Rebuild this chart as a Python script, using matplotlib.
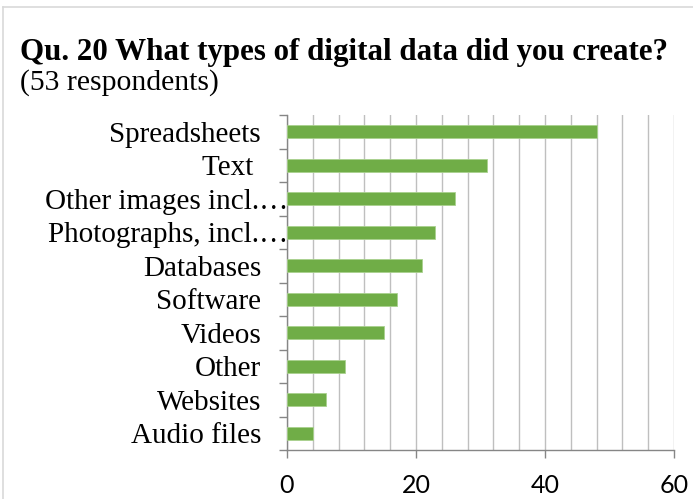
import matplotlib
matplotlib.use("Agg")
import matplotlib.pyplot as plt
from matplotlib.transforms import ScaledTranslation
from matplotlib.lines import Line2D
import numpy as np

categories = ["Spreadsheets", "Text ", "Other images incl.…", "Photographs, incl.…",
              "Databases", "Software", "Videos", "Other", "Websites", "Audio files"]
values = [48, 31, 26, 23, 21, 17, 15, 9, 6, 4]
x_ticks = [0, 20, 40, 60]
x_minor = list(range(0, 61, 4))

W, H = 693, 499
fig = plt.figure(figsize=(W / 100, H / 100), dpi=100)
fig.patch.set_facecolor("white")

# outer chart frame (top and left edges visible)
fig.add_artist(Line2D([2.5 / W, 1.0], [1 - 7 / H, 1 - 7 / H], transform=fig.transFigure,
                      color="#D9D9D9", linewidth=1.2))
fig.add_artist(Line2D([2.5 / W, 2.5 / W], [0, 1 - 7 / H], transform=fig.transFigure,
                      color="#D9D9D9", linewidth=1.2))

ax = fig.add_axes([287 / W, 1 - 450 / H, (674 - 287) / W, (450 - 115) / H])
y = np.arange(len(categories))
ax.barh(y, values, height=0.4, color="#70AD47", edgecolor="#A9D18E", linewidth=0.6, zorder=3)
ax.set_ylim(len(categories) - 0.5, -0.5)
ax.set_xlim(0, 60)

ax.set_xticks(x_ticks)
ax.set_xticks(x_minor, minor=True)
ax.grid(True, which="both", axis="x", color="#BFBFBF", linewidth=1.0, zorder=0)
ax.tick_params(axis="x", which="major", length=5.5, width=1.0, color="#868686",
               labelsize=18, pad=12, direction="out")
ax.tick_params(axis="x", which="minor", length=0)
for lab in ax.get_xticklabels():
    lab.set_fontfamily("Lato")

# y-axis: ticks between categories, labels at centres
ax.set_yticks(np.arange(-0.5, len(categories), 1.0))
ax.set_yticklabels([])
ax.set_yticks(y, minor=True)
ax.set_yticklabels(categories, minor=True, fontfamily="Liberation Serif", fontsize=21)
ax.tick_params(axis="y", which="major", length=5.5, width=1.0, color="#868686", direction="out")
ax.tick_params(axis="y", which="minor", length=0, pad=26 * 0.72)
off = ScaledTranslation(27 / 100, 0, fig.dpi_scale_trans)
for lab in ax.get_yticklabels(minor=True):
    if lab.get_text().endswith("…"):
        lab.set_transform(lab.get_transform() + off)

for s in ["top", "right"]:
    ax.spines[s].set_visible(False)
for s in ["left", "bottom"]:
    ax.spines[s].set_color("#868686")
    ax.spines[s].set_linewidth(1.0)

fig.text(20 / W, 1 - 60 / H, "Qu. 20 What types of digital data did you create?",
         fontfamily="Liberation Serif", fontweight="bold", fontsize=22.3, va="baseline", ha="left")
fig.text(20 / W, 1 - 90 / H, "(53 respondents)",
         fontfamily="Liberation Serif", fontsize=21.4, va="baseline", ha="left")

fig.savefig("out.png", dpi=100, facecolor="white")
